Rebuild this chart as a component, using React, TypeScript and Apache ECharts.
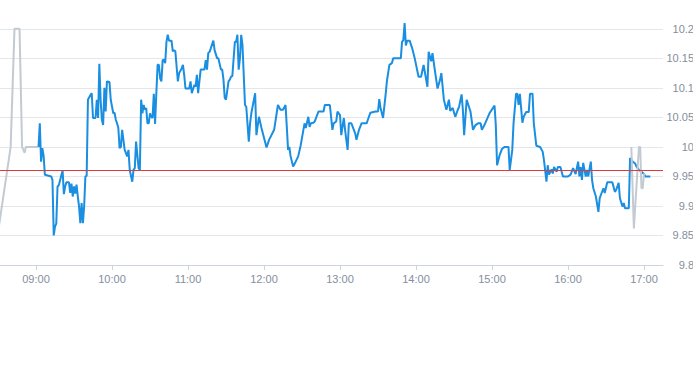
import { useEffect, useRef } from 'react';
import * as echarts from 'echarts';

// Pre-market (grey) quotes
const preMarket: [string, number][] = [
  ['08:30', 9.855], ['08:40', 10.0], ['08:43', 10.2], ['08:47', 10.2], ['08:49', 10.0],
  ['08:51', 9.99], ['08:52', 10.0], ['09:02', 10.0],
];

// Regular session (blue) quotes
const session: [string, number][] = [
  ['09:02', 10.0], ['09:03', 10.04], ['09:04', 9.975], ['09:05', 9.998], ['09:06', 9.985], ['09:07', 9.953],
  ['09:12', 9.95], ['09:13', 9.944], ['09:14', 9.85], ['09:15', 9.865], ['09:16', 9.87], ['09:17', 9.933],
  ['09:18', 9.935], ['09:21', 9.96], ['09:22', 9.92], ['09:23', 9.933], ['09:24', 9.94], ['09:26', 9.94],
  ['09:27', 9.922], ['09:28', 9.938], ['09:29', 9.916], ['09:30', 9.933], ['09:31', 9.921], ['09:32', 9.936],
  ['09:33', 9.916], ['09:34', 9.899], ['09:35', 9.871], ['09:36', 9.905], ['09:37', 9.871], ['09:38', 9.899],
  ['09:39', 9.95], ['09:40', 9.951], ['09:41', 10.08], ['09:43', 10.088], ['09:44', 10.091], ['09:45', 10.049],
  ['09:47', 10.049], ['09:48', 10.08], ['09:49', 10.049], ['09:50', 10.141], ['09:51', 10.08], ['09:52', 10.046],
  ['09:53', 10.037], ['09:54', 10.1], ['09:55', 10.06], ['09:56', 10.111], ['09:58', 10.11], ['09:59', 10.08],
  ['10:01', 10.057], ['10:02', 10.058], ['10:03', 10.046], ['10:04', 10.04], ['10:05', 10.032], ['10:06', 9.998],
  ['10:07', 10.0], ['10:08', 10.029], ['10:10', 9.995], ['10:12', 9.984], ['10:13', 9.995], ['10:14', 9.961],
  ['10:16', 9.941], ['10:17', 9.961], ['10:18', 9.964], ['10:19', 10.009], ['10:21', 9.964], ['10:22', 9.961],
  ['10:23', 10.08], ['10:24', 10.057], ['10:25', 10.071], ['10:26', 10.063], ['10:27', 10.066], ['10:28', 10.04],
  ['10:29', 10.04], ['10:30', 10.057], ['10:31', 10.051], ['10:32', 10.049], ['10:33', 10.09], ['10:34', 10.039],
  ['10:35', 10.091], ['10:36', 10.139], ['10:37', 10.139], ['10:38', 10.116], ['10:39', 10.111], ['10:40', 10.147],
  ['10:41', 10.148], ['10:42', 10.142], ['10:43', 10.178], ['10:44', 10.19], ['10:45', 10.18], ['10:47', 10.18],
  ['10:48', 10.162], ['10:49', 10.164], ['10:50', 10.162], ['10:52', 10.111], ['10:53', 10.125], ['10:55', 10.133],
  ['10:56', 10.139], ['10:57', 10.122], ['10:58', 10.099], ['11:01', 10.099], ['11:02', 10.111], ['11:03', 10.091],
  ['11:05', 10.105], ['11:06', 10.102], ['11:07', 10.122], ['11:08', 10.091], ['11:10', 10.131], ['11:13', 10.131],
  ['11:14', 10.147], ['11:15', 10.131], ['11:16', 10.159], ['11:17', 10.161], ['11:18', 10.167], ['11:20', 10.18],
  ['11:21', 10.164], ['11:23', 10.15], ['11:24', 10.15], ['11:26', 10.131], ['11:27', 10.131], ['11:28', 10.114],
  ['11:29', 10.083], ['11:30', 10.08], ['11:32', 10.111], ['11:33', 10.114], ['11:34', 10.119], ['11:35', 10.12],
  ['11:37', 10.178], ['11:38', 10.178], ['11:39', 10.19], ['11:40', 10.131], ['11:41', 10.15], ['11:42', 10.19],
  ['11:43', 10.173], ['11:45', 10.071], ['11:46', 10.068], ['11:48', 10.009], ['11:49', 10.04], ['11:50', 10.057],
  ['11:53', 10.091], ['11:54', 10.02], ['11:56', 10.051], ['11:58', 10.032], ['12:02', 9.999], ['12:04', 10.012],
  ['12:08', 10.029], ['12:11', 10.071], ['12:13', 10.063], ['12:15', 10.063], ['12:17', 10.071], ['12:18', 10.034],
  ['12:19', 9.995], ['12:20', 10.0], ['12:21', 9.984], ['12:23', 9.967], ['12:25', 9.975], ['12:27', 9.984],
  ['12:29', 10.003], ['12:32', 10.04], ['12:33', 10.032], ['12:35', 10.051], ['12:36', 10.034], ['12:37', 10.04],
  ['12:39', 10.041], ['12:40', 10.043], ['12:43', 10.06], ['12:47', 10.06], ['12:48', 10.071], ['12:52', 10.071],
  ['12:54', 10.029], ['12:55', 10.04], ['12:57', 10.043], ['12:58', 10.06], ['13:00', 10.054], ['13:01', 10.02],
  ['13:03', 10.049], ['13:04', 10.029], ['13:06', 9.995], ['13:07', 10.04], ['13:09', 10.04], ['13:12', 10.023],
  ['13:13', 10.012], ['13:15', 10.029], ['13:17', 10.04], ['13:21', 10.04], ['13:22', 10.046], ['13:24', 10.058],
  ['13:28', 10.06], ['13:30', 10.06], ['13:31', 10.081], ['13:32', 10.066], ['13:34', 10.049], ['13:36', 10.088],
  ['13:37', 10.111], ['13:39', 10.139], ['13:41', 10.142], ['13:42', 10.15], ['13:48', 10.15], ['13:49', 10.178],
  ['13:50', 10.181], ['13:51', 10.21], ['13:52', 10.172], ['13:53', 10.18], ['13:55', 10.18], ['13:57', 10.167],
  ['13:59', 10.15], ['14:02', 10.119], ['14:04', 10.119], ['14:06', 10.139], ['14:09', 10.102], ['14:10', 10.161],
  ['14:12', 10.145], ['14:13', 10.159], ['14:15', 10.128], ['14:17', 10.099], ['14:19', 10.114], ['14:20', 10.125],
  ['14:22', 10.08], ['14:24', 10.063], ['14:26', 10.08], ['14:27', 10.061], ['14:29', 10.066], ['14:31', 10.051],
  ['14:33', 10.063], ['14:34', 10.068], ['14:36', 10.089], ['14:37', 10.063], ['14:38', 10.02], ['14:40', 10.08],
  ['14:43', 10.06], ['14:45', 10.029], ['14:47', 10.037], ['14:49', 10.04], ['14:51', 10.04], ['14:52', 10.029],
  ['14:54', 10.037], ['14:58', 10.057], ['15:02', 10.07], ['15:03', 10.037], ['15:04', 9.969], ['15:06', 9.986],
  ['15:08', 9.997], ['15:10', 10.0], ['15:13', 10.0], ['15:14', 9.961], ['15:16', 9.995], ['15:17', 10.04],
  ['15:19', 10.09], ['15:20', 10.09], ['15:21', 10.071], ['15:22', 10.09], ['15:24', 10.041], ['15:25', 10.051],
  ['15:27', 10.059], ['15:29', 10.059], ['15:30', 10.09], ['15:32', 10.09], ['15:33', 10.04], ['15:35', 10.002],
  ['15:38', 10.0], ['15:40', 9.992], ['15:41', 9.978], ['15:43', 9.941], ['15:44', 9.969], ['15:45', 9.953],
  ['15:47', 9.962], ['15:48', 9.955], ['15:49', 9.966], ['15:51', 9.958], ['15:52', 9.966], ['15:54', 9.966],
  ['15:56', 9.95], ['16:00', 9.95], ['16:02', 9.953], ['16:04', 9.964], ['16:06', 9.954], ['16:08', 9.975],
  ['16:09', 9.95], ['16:10', 9.966], ['16:11', 9.944], ['16:12', 9.973], ['16:14', 9.95], ['16:15', 9.961],
  ['16:16', 9.95], ['16:18', 9.975], ['16:19', 9.944], ['16:20', 9.93], ['16:22', 9.916], ['16:24', 9.89],
  ['16:25', 9.913], ['16:26', 9.919], ['16:28', 9.93], ['16:29', 9.922], ['16:31', 9.94], ['16:35', 9.94],
  ['16:37', 9.924], ['16:38', 9.927], ['16:40', 9.939], ['16:41', 9.913], ['16:43', 9.899], ['16:44', 9.905],
  ['16:45', 9.896], ['16:48', 9.896], ['16:49', 9.981], ['16:51', 9.975], ['16:53', 9.972], ['16:54', 9.967],
  ['16:56', 9.961], ['16:58', 9.958], ['17:00', 9.954], ['17:01', 9.95], ['17:05', 9.95],
];

// After-hours (grey) quotes
const afterHours: [string, number][] = [
  ['16:50', 10.0], ['16:52', 9.862], ['16:56', 10.0], ['16:57', 10.0], ['16:58', 9.93],
  ['16:59', 9.93], ['17:00', 9.955],
];

const prevClose = 9.964;
const hourLabels = ['09:00', '10:00', '11:00', '12:00', '13:00', '14:00', '15:00', '16:00', '17:00'];
const priceLabels = [9.8, 9.85, 9.9, 9.95, 10, 10.05, 10.1, 10.15, 10.2];

const toMin = (t: string) => {
  const [h, m] = t.split(':').map(Number);
  return h * 60 + m;
};
const toClock = (v: number) => {
  const h = Math.floor(v / 60);
  const m = Math.round(v - h * 60);
  return `${String(h).padStart(2, '0')}:${String(m).padStart(2, '0')}`;
};
const toXY = (rows: [string, number][]) => rows.map(([t, p]) => [toMin(t), p]);

const LABEL_COLOR = '#848e9e';
const FONT = '"Liberation Sans", Arial, sans-serif';

export default function App() {
  const ref = useRef<HTMLDivElement>(null);
  useEffect(() => {
    if (!ref.current) return;
    const chart = echarts.init(ref.current, undefined, { renderer: 'svg' });
    const hourTicks = hourLabels.map(toMin);
    chart.setOption({
      animation: false,
      backgroundColor: '#ffffff',
      grid: {
        left: -40,
        right: 30,
        top: 20,
        bottom: 100,
        containLabel: false,
        outerBoundsMode: 'none',
      },
      xAxis: {
        type: 'value',
        min: toMin('08:00'),
        max: toMin('17:15'),
        interval: 60,
        axisLine: { show: true, lineStyle: { color: '#cdd4de', width: 1 } },
        axisTick: { show: true, length: 5, lineStyle: { color: '#cdd4de' }, customValues: hourTicks },
        splitLine: { show: false },
        axisLabel: {
          customValues: hourTicks,
          color: LABEL_COLOR,
          fontSize: 11,
          fontFamily: FONT,
          margin: 8,
          formatter: (v: number) => (v % 60 === 0 ? toClock(v) : ''),
        },
      },
      yAxis: {
        type: 'value',
        position: 'right',
        min: 9.8,
        max: 10.215,
        interval: 0.05,
        axisLine: { show: false },
        axisTick: { show: false },
        splitLine: { show: true, showMaxLine: false, lineStyle: { color: '#e3e6ea', width: 1 } },
        axisLabel: {
          customValues: priceLabels,
          color: LABEL_COLOR,
          fontSize: 11,
          fontFamily: FONT,
          align: 'right',
          margin: 31,
        },
      },
      series: [
        {
          name: 'pre',
          type: 'line',
          data: toXY(preMarket),
          showSymbol: false,
          symbol: 'none',
          lineStyle: { color: '#c3cad2', width: 2 },
          z: 2,
        },
        {
          name: 'session',
          type: 'line',
          data: toXY(session),
          showSymbol: false,
          symbol: 'none',
          lineStyle: { color: '#1a8ee1', width: 2 },
          z: 3,
          markLine: {
            silent: true,
            symbol: 'none',
            label: { show: false },
            lineStyle: { color: '#e0393b', width: 1, type: 'solid' },
            data: [{ yAxis: prevClose }],
          },
        },
        {
          name: 'after',
          type: 'line',
          data: toXY(afterHours),
          showSymbol: false,
          symbol: 'none',
          lineStyle: { color: '#c3cad2', width: 2 },
          z: 4,
        },
      ],
    });
    return () => chart.dispose();
  }, []);
  return (
    <div
      ref={ref}
      style={{ position: 'fixed', left: 0, top: 0, width: 693, height: 365, background: '#fff' }}
    />
  );
}
